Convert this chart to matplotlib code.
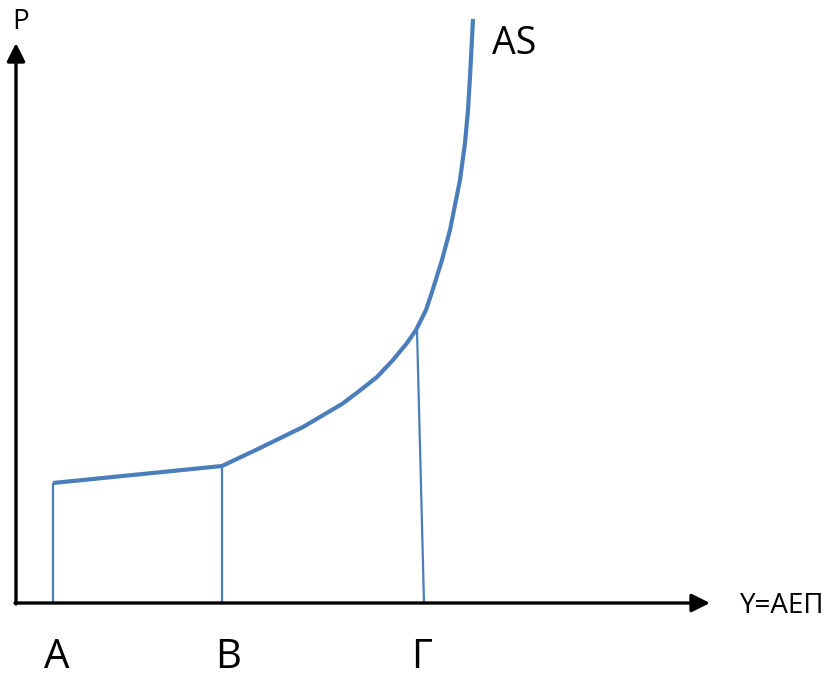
import numpy as np
import matplotlib

matplotlib.use("Agg")
import matplotlib.pyplot as plt  # noqa: E402

plt.rcParams["font.family"] = ["Open Sans", "DejaVu Sans"]

# coordinates (pixel units, y grows downward)
flat_x = [53, 222]
flat_y = [483, 466]
curve_x = [222, 260, 303, 342, 358, 377, 393, 407, 416, 426, 432, 442,
           450, 456, 460, 465, 468, 470, 473]
curve_y = [466, 448, 427, 404, 392, 377, 360, 343, 330, 310, 292, 260,
           230, 200, 180, 143, 110, 77, 19]
drop_top = [(53, 483), (222, 466), (417, 330)]
drop_bottom = [(53, 603), (222, 603), (424, 603)]
point_labels = ["Α", "Β", "Γ"]
label_x = [57, 228, 422]

ORIGIN = (16, 603)
Y_TIP = (16, 43)
X_TIP = (710, 603)
BLUE = "#4a7ebb"

fig = plt.figure(figsize=(8.32, 6.77), dpi=100)
ax = fig.add_axes([0, 0, 1, 1])
ax.set_xlim(0, 832)
ax.set_ylim(677, 0)
ax.axis("off")

# axes with arrowheads
arrow = dict(arrowstyle="-|>,head_length=1.0,head_width=0.5", color="black",
             lw=2.4, shrinkA=0, shrinkB=0, mutation_scale=11)
ax.annotate("", xy=Y_TIP, xytext=(ORIGIN[0], ORIGIN[1] + 1), arrowprops=arrow)
ax.annotate("", xy=X_TIP, xytext=(ORIGIN[0] - 1, ORIGIN[1]), arrowprops=arrow)

# vertical drop lines
for (x0, y0), (x1, y1) in zip(drop_top, drop_bottom):
    ax.plot([x0, x1], [y0, y1], color=BLUE, lw=1.6, solid_capstyle="butt")

# AS curve
ax.plot(flat_x, flat_y, color=BLUE, lw=3.0, solid_capstyle="butt")
ax.plot(curve_x, curve_y, color=BLUE, lw=3.0, solid_capstyle="butt",
        solid_joinstyle="round")

ax.text(12, 22, "P", fontsize=20, ha="left", va="center")
ax.text(740, 606, "Y=ΑΕΠ", fontsize=20, ha="left", va="center")
ax.text(492, 44, "AS", fontsize=27, ha="left", va="center")
for lbl, x in zip(point_labels, label_x):
    ax.text(x, 658, lbl, fontsize=29, ha="center", va="center")

fig.savefig("out.png", dpi=100)
plt.close(fig)
